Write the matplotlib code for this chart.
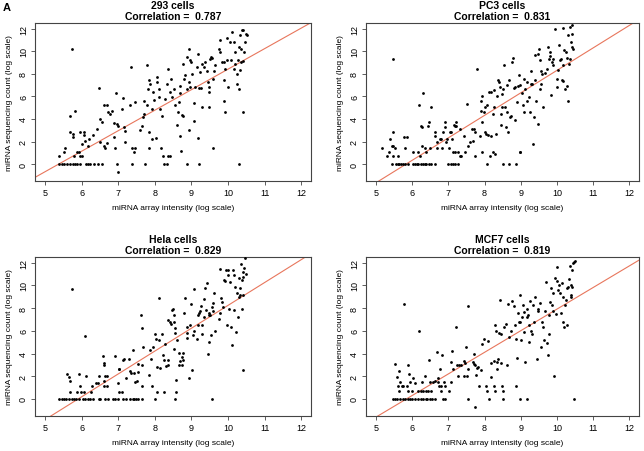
import matplotlib
matplotlib.use("Agg")
import matplotlib.pyplot as plt
import numpy as np

plt.rcParams['font.family'] = ['Liberation Sans', 'DejaVu Sans']

# ---- data (array intensity, sequencing count) ----
titles = ["293 cells", "PC3 cells", "Hela cells", "MCF7 cells"]
correlations = ["0.787", "0.831", "0.829", "0.819"]
# regression lines: (slope, intercept)
fits = [(1.816, -9.75), (1.99, -11.6), (2.01, -11.86), (1.90, -11.09)]

# 293 cells
x293 = [5.39, 5.46, 5.52, 5.59, 5.68, 5.75, 5.82, 5.88, 5.96, 6.12, 6.18, 6.23, 6.34, 6.43, 6.55,
        6.96, 7.37, 7.73, 8.24, 8.33, 8.87, 9.21, 10.29,
        5.39, 5.52, 5.53, 5.68, 5.82, 5.73, 5.67, 5.75, 5.77, 5.79, 5.87, 5.91, 5.96, 6.0,
        5.94, 6.0, 6.05, 6.07, 6.09, 6.16, 6.19, 6.32, 6.41, 6.46, 6.49, 6.5, 6.55, 6.6, 6.61,
        6.64, 6.69, 6.7, 6.73, 6.78, 6.82, 6.87, 6.89, 6.91, 6.94, 6.96, 7.0, 7.0,
        7.1, 7.12, 7.16, 7.19, 7.19, 7.32, 7.34, 7.36, 7.42, 7.46, 7.46,
        7.6, 7.64, 7.67, 7.69, 7.71, 7.78, 7.78, 7.8, 7.83, 7.85, 7.87, 7.85, 7.92, 7.92, 7.96,
        7.98, 8.04, 8.05, 8.07, 8.1, 8.1, 8.14, 8.17, 8.19, 8.21, 8.28, 8.33, 8.37, 8.37, 8.42,
        8.42, 8.44, 8.46, 8.51, 8.56, 8.6, 8.62, 8.65,
        8.69, 8.69, 8.69, 8.71, 8.74, 8.76, 8.78, 8.8, 8.83, 8.87, 8.87, 8.92, 8.92, 8.93, 8.95,
        8.97, 8.98, 9.01, 9.06, 9.07, 9.1, 9.15, 9.17, 9.18, 9.21,
        9.24, 9.27, 9.28, 9.3, 9.33, 9.38, 9.42, 9.44, 9.47, 9.47, 9.48, 9.51, 9.53, 9.56, 9.59,
        9.6, 9.62, 9.65,
        9.74, 9.79, 9.79, 9.83, 9.88, 9.88, 9.9, 9.92, 9.92, 9.97, 9.97, 10.01, 10.06, 10.08,
        10.1, 10.15, 10.15, 10.2, 10.2, 10.24, 10.24, 10.26, 10.29, 10.31, 10.33, 10.35, 10.35,
        10.38, 10.42, 10.4, 10.42, 10.44, 10.47, 10.49, 10.53, 10.33]
y293 = [0, 0, 0, 0, 0, 0, 0, 0, 0, 0, 0, 0, 0, 0, 0,
        0, 0, 0, 0, 0, 0, 0, 0,
        0.68, 1.1, 1.39, 4.24, 4.71, 10.22, 2.87, 2.67, 2.37, 0.68, 1.1, 1.1, 0.74, 0.68,
        2.81, 1.78, 2.58, 2.81, 2.07, 1.63, 2.22, 2.58, 3.11, 6.73, 4.0, 1.99, 3.7, 1.63, 5.24,
        1.39, 1.87, 5.24, 4.59, 4.44, 4.74, 2.37, 3.61, 1.39, 6.31, 3.56, 3.41, -0.68,
        4.89, 5.84, 3.26, 2.96, 1.99, 5.19, 8.59, 1.39, 1.1, 1.39, 5.48,
        3.05, 3.41, 4.15, 4.44, 5.63, 5.24, 8.74, 6.67, 7.47, 2.81, 7.11, 1.39, 2.22, 4.89, 6.37,
        5.72, 2.28, 7.7, 7.26, 6.67, 5.93, 4.89, 1.39, 4.24, 0.68, 5.78, 7.11, 8.39, 0.68, 0.68,
        6.37, 7.56, 5.93, 6.67, 5.24, 3.47, 4.65, 5.54,
        6.9, 6.31, 2.52, 1.19, 4.39, 4.3, 8.83, 7.56, 7.85, 6.67, 9.48, 7.26, 3.05, 10.22, 9.19,
        6.81, 9.04, 8.0, 5.42, 3.85, 6.81, 8.59, 9.78, 2.28, 6.73,
        8.15, 6.73, 5.04, 8.89, 8.59, 9.04, 8.21, 7.26, 6.37, 6.81, 5.04, 9.33, 9.45, 9.39, 1.39,
        7.56, 8.21, 8.74,
        10.22, 9.93, 10.96, 9.04, 9.04, 5.63, 7.41, 8.44, 4.59, 9.19, 11.17, 6.81, 10.81, 9.19,
        11.7, 10.81, 8.44, 9.93, 8.89, 7.11, 8.0, 9.19, 10.37, 6.67, 11.41, 9.04, 10.22,
        11.85, 11.85, 9.1, 4.59, 9.93, 10.81, 11.56, 11.41, 8.3]

# PC3 cells
xpc3 = [5.44, 5.55, 5.6, 5.64, 5.69, 5.75, 5.8, 5.88, 6.03, 6.08, 6.12, 6.17, 6.24, 6.3, 6.35,
        6.39, 6.46, 6.53, 6.62, 6.99, 7.06, 7.12, 7.17, 7.26, 8.08, 8.52, 8.67, 8.86,
        5.15, 5.3, 5.35, 5.39, 5.44, 5.46, 5.48, 5.48, 5.46, 5.53, 5.6,
        5.76, 5.85, 5.8, 6.03, 6.17, 6.19, 6.21, 6.24, 6.28, 6.26, 6.31, 6.35, 6.39, 6.44, 6.46,
        6.49, 6.51, 6.62, 6.64, 6.67, 6.67,
        6.76, 6.79, 6.82, 6.85, 6.9, 6.91, 6.94, 6.97, 7.01, 7.03, 7.06, 7.1, 7.12, 7.15, 7.17,
        7.2, 7.22, 7.17, 7.26, 7.31, 7.33, 7.35, 7.44, 7.46, 7.52, 7.55, 7.61, 7.64, 7.67, 7.72,
        7.74, 7.74, 7.79,
        7.88, 7.9, 7.9, 7.92, 7.92, 7.94, 7.97, 8.0, 8.01, 8.04, 8.08, 8.1, 8.13, 8.15, 8.17,
        8.19, 8.22, 8.23, 8.25, 8.26, 8.28, 8.31, 8.35, 8.37, 8.4, 8.43, 8.45, 8.46, 8.49, 8.49,
        8.52, 8.54, 8.56, 8.58, 8.61, 8.63, 8.65, 8.67, 8.7, 8.74, 8.76, 8.79, 8.81, 8.83, 8.84,
        8.9, 8.92, 8.96, 8.97, 8.99, 8.99, 9.04, 9.07, 9.1, 9.1, 9.13, 9.16, 9.17, 9.22, 9.25,
        9.27, 9.28, 9.31, 9.33, 9.36, 9.38, 9.4, 9.43, 9.47, 9.49, 9.5, 9.52, 9.54, 9.56, 9.57,
        9.59, 9.61, 9.68, 9.72, 9.74, 9.77, 9.8, 9.81, 9.83, 9.86, 9.89, 9.9, 9.95, 10.0, 10.01,
        10.04, 10.07, 10.09, 10.1, 10.13, 10.16, 10.18, 10.18, 10.2, 10.22, 10.25, 10.27, 10.29,
        10.31, 10.31, 10.34, 10.36, 10.36, 10.38, 10.41, 10.41, 10.42, 10.45]
ypc3 = [0, 0, 0, 0, 0, 0, 0, 0, 0, 0, 0, 0, 0, 0, 0,
        0, 0, 0, 0, 0, 0, 0, 0, 0, 0, 0, 0, 0,
        1.39, 0.68, 1.1, 2.22, 1.63, 1.63, 0.68, 2.87, 9.27, 1.39, 0.68,
        2.37, 2.37, 1.39, 1.1, 1.1, 5.19, 0.68, 3.41, 3.26, 1.63, 6.28, 1.39, 1.1, 3.35, 3.76,
        1.39, 5.04, 2.81, 2.52, 1.93, 1.39,
        2.22, 2.22, 1.39, 2.81, 3.26, 3.76, 1.93, 2.22, 1.39, 2.87, 2.81, 2.22, 1.1, 3.47, 3.41,
        3.7, 3.41, 1.1, 1.1, 0.68, 3.11, 0.68, 2.52, 1.1, 5.33, 1.63, 1.93, 3.11, 2.07, 3.11,
        0.68, 2.87, 8.39,
        2.52, 4.74, 5.63, 6.07, 1.1, 3.7, 4.59, 5.04, 2.87, 2.67, 5.24, 2.58, 6.43, 0.68, 2.46,
        6.43, 1.1, 4.44, 5.04, 6.52, 0.89, 2.67, 6.07, 7.41, 7.26, 6.81, 3.47, 4.44, 5.04, 6.22,
        6.67, 8.8, 5.04, 3.26, 4.59, 7.02, 2.81, 7.41, 4.15, 4.3, 9.04, 9.39, 6.73, 3.94, 6.81,
        5.54, 6.9, 7.91, 1.1, 1.1, 7.02, 6.28, 5.19, 7.56, 4.59, 6.67, 7.26, 5.63, 5.93, 4.59,
        7.11, 8.21, 7.11, 1.78, 4.15, 7.41, 9.63, 5.63, 3.56, 9.78, 10.16, 9.19, 6.61, 7.11, 8.21,
        8.0, 5.04, 8.09, 8.44, 10.37, 9.33, 9.93, 9.57, 6.13, 9.04, 8.74, 9.33, 11.94, 6.81, 7.56,
        8.3, 10.52, 9.19, 9.33, 7.41, 7.32, 8.74, 12.06, 10.07, 6.67, 9.93, 6.96, 9.39,
        11.41, 5.63, 8.89, 9.33, 12.15, 10.81, 11.56, 12.3, 10.37, 10.22]

# Hela cells
xhela = [5.39, 5.46, 5.52, 5.57, 5.66, 5.73, 5.79, 5.85, 5.91, 6.03, 6.09, 6.18, 6.23, 6.32,
         6.46, 6.5, 6.64, 6.73, 6.85, 6.91, 6.98, 7.14, 7.22, 7.31, 7.4, 7.43, 7.49, 7.55, 7.64,
         8.01, 8.56, 9.56,
         5.59, 5.64, 5.67, 5.67, 5.73, 5.88, 5.91, 5.94, 5.98, 6.05, 6.09, 6.12, 6.25, 6.28, 6.39,
         6.43, 6.46, 6.58, 6.6, 6.61, 6.6, 6.61, 6.64, 6.69, 6.7, 6.91, 6.98, 7.01, 7.03, 7.03,
         7.1, 7.14, 7.16, 7.22, 7.28, 7.31, 7.34, 7.4, 7.42, 7.46, 7.51, 7.53, 7.55, 7.62, 7.64,
         7.67, 7.64, 7.64, 7.83, 7.87, 7.9, 7.92, 7.96, 8.01, 8.04, 8.05, 8.07, 8.1, 8.1, 8.15,
         8.19, 8.22, 8.24, 8.26, 8.28, 8.31, 8.35, 8.37, 8.37, 8.42, 8.44, 8.46, 8.49, 8.51, 8.51,
         8.53, 8.54, 8.55, 8.58, 8.58, 8.6, 8.65, 8.67, 8.69, 8.74, 8.74, 8.76, 8.78, 8.8, 8.83,
         8.87, 8.89, 8.89, 8.92, 8.97, 8.98, 9.01, 9.04, 9.06, 9.07, 9.15, 9.17, 9.19, 9.21, 9.24,
         9.27, 9.28, 9.3, 9.33, 9.35, 9.38, 9.4, 9.42, 9.44, 9.47, 9.48, 9.49, 9.51, 9.53, 9.56,
         9.59, 9.6, 9.62, 9.65, 9.74, 9.77, 9.79, 9.81, 9.83, 9.86, 9.9, 9.92, 9.95, 9.97, 9.99,
         10.01, 10.04, 10.06, 10.08, 10.1, 10.13, 10.15, 10.17, 10.2, 10.22, 10.24, 10.26, 10.29,
         10.31, 10.33, 10.35, 10.38, 10.38, 10.4, 10.42, 10.42, 10.44, 10.47, 10.5, 10.4, 10.33]
yhela = [0, 0, 0, 0, 0, 0, 0, 0, 0, 0, 0, 0, 0, 0,
         0, 0, 0, 0, 0, 0, 0, 0, 0, 0, 0, 0, 0, 0, 0,
         0, 0, 0,
         2.21, 1.92, 1.62, 0.65, 9.65, 0.65, 2.21, 1.12, 0.65, 0.65, 5.55, 2.01, 0.65, 1.12, 1.42,
         1.42, 2.01, 3.78, 3.19, 2.95, 1.62, 1.12, 2.06, 2.06, 1.12, 3.78, 1.42, 2.65, 2.6, 0.65,
         0.65, 3.39, 3.54, 1.83, 3.54, 2.42, 2.3, 4.28, 2.3, 1.47, 1.62, 3.1, 2.36, 7.43, 6.25,
         4.57, 2.95, 1.12, 2.12, 4.28, 3.54, 1.12, 4.57, 5.75, 5.25, 2.8, 0.65, 5.16, 8.91, 2.71,
         5.75, 3.89, 3.39, 0.65, 4.87, 2.89, 3.01, 6.93, 3.39, 6.78, 6.64, 7.82, 7.91, 4.42, 6.78,
         7.37, 6.25, 5.84, 1.71, 0.65, 5.16, 3.01, 4.07, 3.3, 3.69, 3.01, 3.39, 4.07, 7.61, 8.91,
         6.34, 5.37, 5.84, 1.83, 6.55, 8.32, 2.51, 5.66, 5.96, 9.68, 5.25, 6.55, 7.43, 7.61, 7.73,
         8.2, 6.55, 5.75, 7.23, 8.79, 9.73, 7.82, 10.18, 3.98, 7.61, 7.43, 5.01, 7.37, 5.6, 8.11,
         8.41, 7.73, 9.29, 5.96, 7.08, 7.61, 11.45, 8.91, 8.55, 8.11, 10.47, 10.38, 11.36, 6.55, 11.36,
         10.91, 7.96, 10.32, 6.34, 4.78, 11.36, 10.91, 7.82, 9.88, 5.9, 9.29, 7.23, 10.62,
         9.0, 9.73, 11.86, 10.47, 7.96, 11.21, 2.57, 10.77, 11.5, 12.39, 10.97, 9.14, 9.14]

# MCF7 cells
xmcf7 = [5.48, 5.53, 5.57, 5.66, 5.73, 5.8, 5.87, 5.94, 6.0, 6.08, 6.17, 6.24, 6.3, 6.37, 6.42,
         6.49, 6.55, 6.64, 6.85, 6.91, 7.53, 8.13, 8.52, 8.97, 9.17, 10.47,
         5.53, 5.57, 5.6, 5.62, 5.64, 5.67, 5.71, 5.74, 5.76, 5.85, 5.88, 5.89, 5.91, 5.94, 5.98,
         6.03, 6.08, 6.17, 6.19, 6.23, 6.28, 6.3, 6.35, 6.39, 6.44, 6.46, 6.49, 6.53, 6.58, 6.62,
         6.67, 6.7, 6.71, 6.73, 6.76, 6.79, 6.8, 6.82, 6.88, 6.9, 7.01, 7.06, 7.08, 7.1, 7.12,
         7.22, 7.24, 7.26, 7.28, 7.35, 7.42, 7.44, 7.46, 7.49, 7.52, 7.53, 7.55, 7.67, 7.7, 7.72,
         7.74, 7.74, 7.76, 7.79, 7.83, 7.85, 7.9, 7.94, 7.99, 8.04, 8.06, 8.1, 8.17, 8.19, 8.25,
         8.26, 8.28, 8.29, 8.31, 8.34, 8.35, 8.37, 8.4, 8.43, 8.45, 8.46, 8.49, 8.52, 8.54, 8.58,
         8.63, 8.65, 8.67, 8.72, 8.76, 8.81, 8.83, 8.86, 8.88, 8.9, 8.92, 8.95, 8.98, 8.99, 9.01,
         9.04, 9.06, 9.08, 9.1, 9.13, 9.16, 9.17, 9.19, 9.22, 9.24, 9.25, 9.28, 9.31, 9.34, 9.36,
         9.4, 9.45, 9.47, 9.49, 9.52, 9.56, 9.59, 9.61, 9.65, 9.68, 9.7, 9.72, 9.74, 9.77, 9.79,
         9.81, 9.83, 9.86, 9.89, 9.9, 9.92, 9.95, 9.98, 10.0, 10.01, 10.04, 10.07, 10.09, 10.1,
         10.13, 10.16, 10.18, 10.2, 10.22, 10.25, 10.27, 10.29, 10.31, 10.34, 10.36, 10.38, 10.4,
         10.42, 10.43, 10.45, 10.48, 10.5, 10.4]
ymcf7 = [0, 0, 0, 0, 0, 0, 0, 0, 0, 0, 0, 0, 0, 0, 0,
         0, 0, 0, 0, 0, 0, 0, 0, 0, 0, 0,
         3.1, 1.92, 1.18, 0.74, 2.42, 1.47, 1.12, 1.12, 8.35, 1.18, 0.74, 2.95, 2.21, 1.47, 0.74,
         1.83, 1.42, 0.74, 5.96, 0.74, 1.47, 0.74, 2.06, 0.74, 0.74, 3.39, 1.47, 0.74, 1.47, 1.62,
         4.13, 1.47, 1.83, 1.18, 2.6, 1.18, 0.74, 3.83, 1.47, 1.18, 0.74, 3.24, 1.47, 4.19, 2.6,
         6.34, 2.95, 2.06, 2.95, 2.95, 2.06, 3.3, 3.19, 4.57, 2.06, 8.17, 2.65, 3.24, 3.1, 3.98,
         -0.74, 3.01, 2.12, 2.71, 2.8, 1.18, 2.51, 4.87, 5.31, 1.18, 0.74, 5.07, 3.19, 1.92, 3.3,
         1.18, 0.74, 6.55, 5.96, 3.24, 2.65, 3.54, 5.84, 8.7, 5.75, 3.19, 1.18, 0.74, 6.34, 6.64,
         3.01, 8.32, 5.46, 5.96, 8.61, 8.2, 6.55, 1.18, 5.31, 3.6, 7.61, 6.78, 9.14, 6.78, 5.16,
         7.23, 8.26, 7.67, 5.9, 3.24, 7.96, 7.23, 7.43, 5.01, 6.49, 8.61, 5.96, 5.75, 8.26, 6.78,
         9.0, 3.54, 7.91, 7.73, 8.41, 4.57, 6.78, 6.34, 5.16, 7.73, 10.32, 4.96, 3.83, 5.75, 7.37,
         8.5, 9.73, 8.26, 9.29, 7.73, 2.01, 10.62, 7.52, 11.65, 10.38, 9.59, 10.03, 9.29, 7.61,
         10.18, 9.0, 6.78, 6.34, 8.26, 8.7, 6.49, 9.73, 9.88, 10.56, 11.74, 9.14, 10.03,
         11.36, 9.88, 11.95, 12.04, 12.15, 9.0]

xs = [x293, xpc3, xhela, xmcf7]
ys = [y293, ypc3, yhela, ymcf7]

# axes boxes in pixels (left, top, right, bottom) for a 644x452 canvas
W, H = 644, 452
boxes = [(35, 24, 311, 182), (366, 24, 639, 182), (35, 258, 311, 417), (366, 258, 639, 417)]

fig = plt.figure(figsize=(6.44, 4.52), dpi=100)
for i in range(4):
    l, t, r, b = boxes[i]
    ax = fig.add_axes([l / W, 1 - b / H, (r - l) / W, (b - t) / H])
    ax.scatter(xs[i], ys[i], s=4, c='black', linewidths=0, zorder=3)
    xx = np.array([4, 13])
    slope, icpt = fits[i]
    ax.plot(xx, slope * xx + icpt, color='#E8765C', lw=0.8, zorder=2)
    ax.set_xlim(4.72, 12.27)
    ax.set_ylim(-1.5, 12.5)
    ax.set_xticks(range(5, 13))
    ax.set_yticks(range(0, 13, 2))
    ax.tick_params(labelsize=6.5, length=3, width=0.6, color='#444444', pad=2)
    for lab in ax.get_yticklabels():
        lab.set_rotation(90)
        lab.set_va('center')
    for s in ax.spines.values():
        s.set_linewidth(0.8)
        s.set_color('#444444')
    ax.set_xlabel("miRNA array intensity (log scale)", fontsize=6, labelpad=5)
    ax.set_ylabel("miRNA sequencing count (log scale)", fontsize=6, labelpad=4)
    ax.set_title(titles[i] + "\nCorrelation =  " + correlations[i],
                 fontsize=7.5, fontweight='bold', pad=3, linespacing=1.15)

fig.text(3 / W, 1 - 8 / H, "A", fontsize=8, fontweight='bold', va='center', ha='left')

fig.savefig("out.png", dpi=100)
